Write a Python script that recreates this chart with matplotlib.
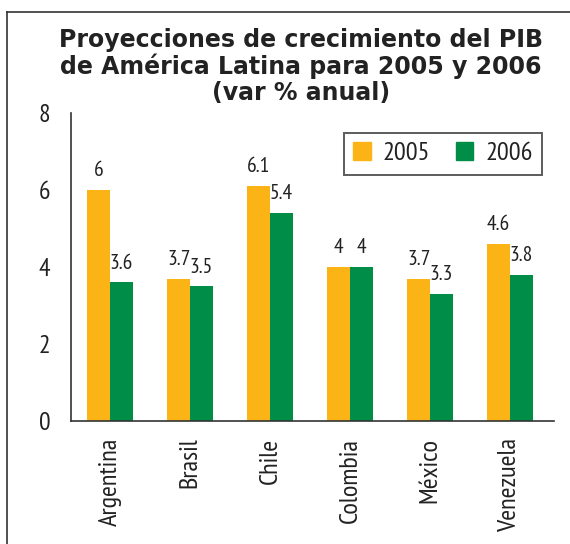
import matplotlib
matplotlib.use("Agg")
import matplotlib.pyplot as plt
import numpy as np
from matplotlib.lines import Line2D
from matplotlib.patches import Patch

categories = ["Argentina", "Brasil", "Chile", "Colombia", "México", "Venezuela"]
years = ["2005", "2006"]
v2005 = [6, 3.7, 6.1, 4, 3.7, 4.6]
v2006 = [3.6, 3.5, 5.4, 4, 3.3, 3.8]
yticks = [0, 2, 4, 6, 8]

c05 = "#FCB316"
c06 = "#008D47"
cond = ["PT Sans Narrow", "Fira Sans Condensed", "DejaVu Sans"]
tc = "#222222"

fig = plt.figure(figsize=(5.70, 5.44), dpi=100)
ax = fig.add_axes([71/570, 1-421/544, (554-71)/570, (421-113)/544])

x = np.arange(len(categories))
w = 0.285
b1 = ax.bar(x - w/2, v2005, w, color=c05, label=years[0])
b2 = ax.bar(x + w/2, v2006, w, color=c06, label=years[1])

for bars, vals in ((b1, v2005), (b2, v2006)):
    for r, v in zip(bars, vals):
        ax.annotate(f"{v:g}", (r.get_x() + r.get_width()/2, r.get_height()),
                    xytext=(0, 7), textcoords="offset points", ha="center", va="bottom",
                    fontsize=15.5, family=cond, color=tc)

ax.set_ylim(0, 8)
ax.set_xlim(-0.49, 5.55)
ax.set_yticks(yticks)
ax.set_yticklabels([str(t) for t in yticks], family=cond, fontsize=18.5, color=tc)
ax.set_xticks(x)
ax.set_xticklabels(categories, rotation=90, family=cond, fontsize=19, color=tc, va="top")
ax.tick_params(axis="both", length=0)
ax.tick_params(axis="y", pad=15)
ax.tick_params(axis="x", pad=12)
for s in ("top", "right"):
    ax.spines[s].set_visible(False)
for s in ("left", "bottom"):
    ax.spines[s].set_color("#333333")
    ax.spines[s].set_linewidth(1.2)

handles = [Patch(color=c05), Patch(color=c06)]
leg = ax.legend(handles, years, loc="upper right", bbox_to_anchor=(542/570, 1-133/544),
                bbox_transform=fig.transFigure, ncol=2, frameon=True, fancybox=False,
                prop={"family": cond, "size": 19}, handlelength=0.65, handleheight=0.65,
                columnspacing=1.0, handletextpad=0.45, borderpad=0.35, borderaxespad=0)
leg.get_frame().set_edgecolor("#333333")
leg.get_frame().set_linewidth(1.4)
for t in leg.get_texts():
    t.set_color(tc)

fig.text(301/570, 1-28/544, "Proyecciones de crecimiento del PIB\nde América Latina para 2005 y 2006\n(var % anual)",
         ha="center", va="top", fontsize=17, fontweight="bold", color=tc,
         linespacing=1.08, family="DejaVu Sans")

# outer frame
fig.add_artist(Line2D([7/570, 7/570], [0, 1-12/544], transform=fig.transFigure, color="#333333", lw=1.2))
fig.add_artist(Line2D([7/570, 1], [1-12/544, 1-12/544], transform=fig.transFigure, color="#333333", lw=1.2))

fig.savefig("out.png", dpi=100)
